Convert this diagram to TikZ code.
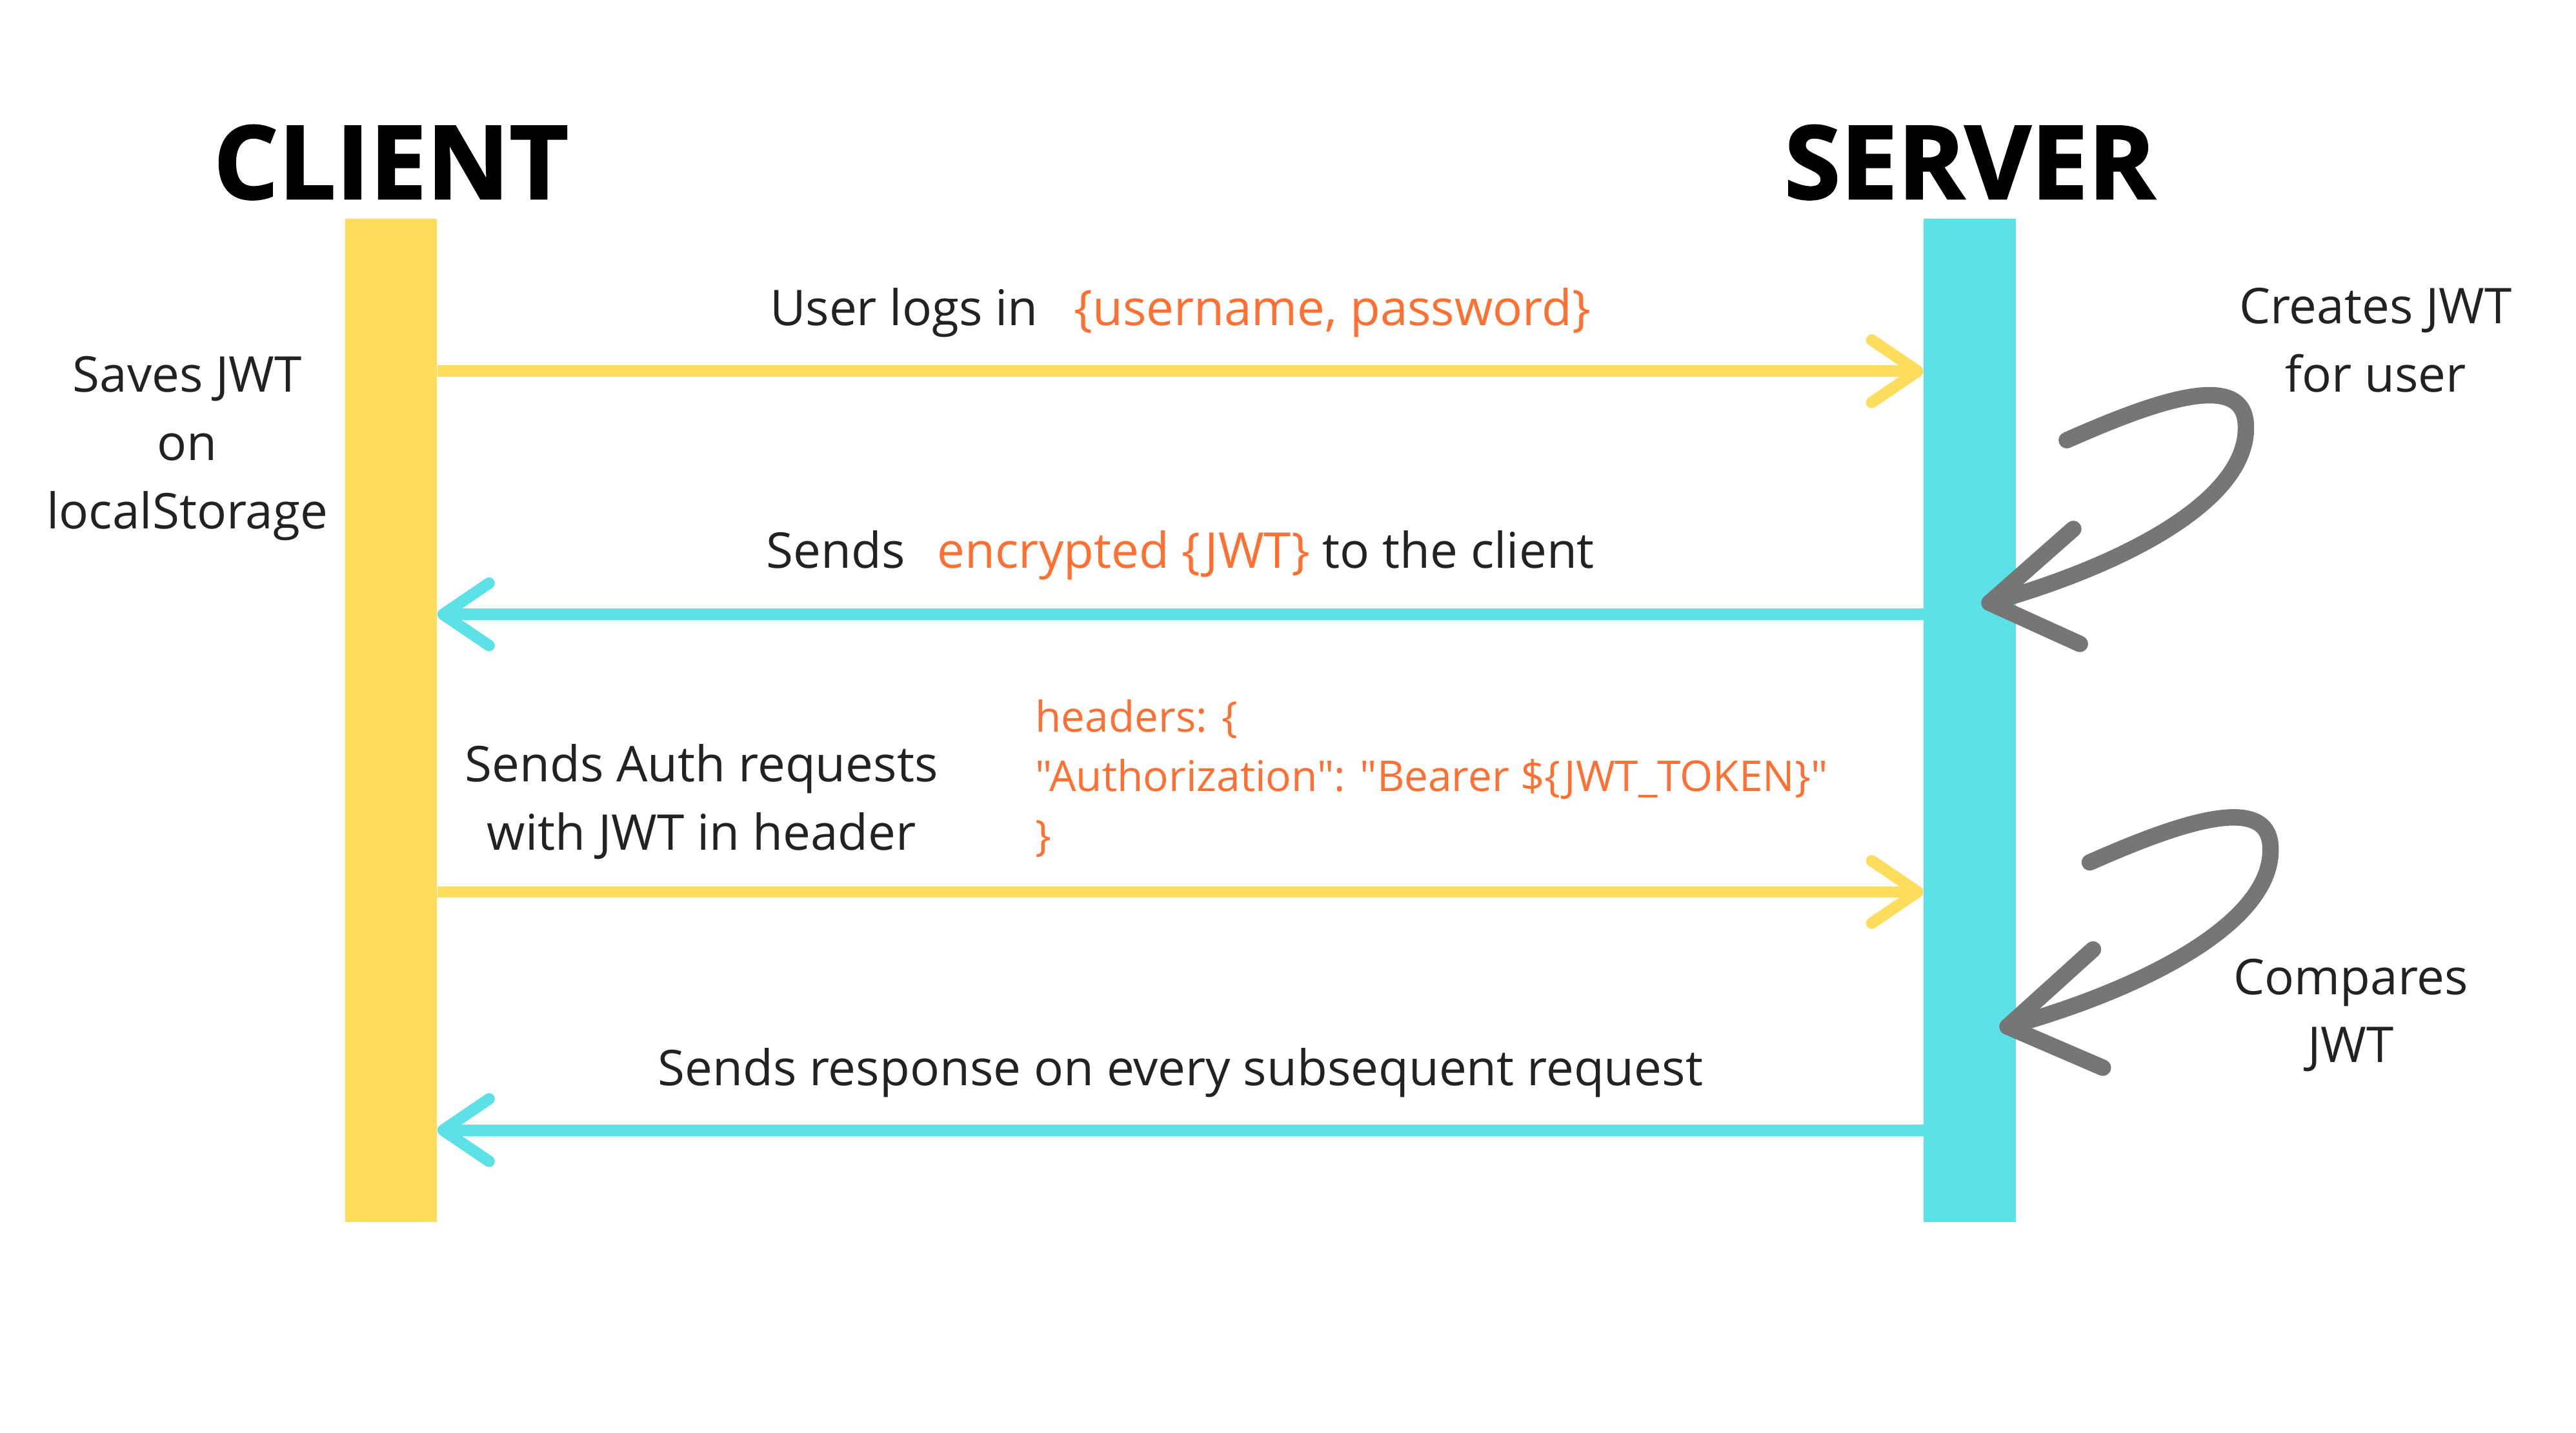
\documentclass[tikz,border=0pt]{standalone}
\usepackage{fontspec}
\setmainfont{Open Sans}
\newfontfamily\headfont{Open Sans}[UprightFont=* Bold, FakeBold=1.6]
\newfontfamily\codefont{Open Sans}[Ligatures=TeXOff]
\usetikzlibrary{arrows.meta,positioning}
\definecolor{clientyellow}{RGB}{254,220,92}
\definecolor{servercyan}{RGB}{92,225,230}
\definecolor{codeorange}{RGB}{255,112,50}
\definecolor{curlgray}{RGB}{118,118,118}
\definecolor{textgray}{RGB}{34,34,34}
\tikzset{
  lifeline/.style={rectangle, inner sep=0, minimum width=56pt, minimum height=611pt},
  head/.style={inner sep=0, font=\headfont\fontsize{62}{62}\selectfont},
  msgtext/.style={inner sep=0, text=textgray, align=center, font=\fontsize{30}{41.5}\selectfont},
  codetext/.style={inner sep=0, text=codeorange, align=left, font=\codefont\fontsize{25.8}{36}\selectfont},
  msg/.style={line width=7pt, -{Straight Barb[length=28pt,width=38pt,line cap=round,line join=round]}},
  curlarrow/.style={draw=curlgray, line width=10pt, line cap=round, line join=round}
}
\begin{document}
\begin{tikzpicture}[x = 1pt, y = -1pt]
  \useasboundingbox (0,0) rectangle (1568,872);
  % lifelines
  \node[lifeline, fill=clientyellow] (client) at (238,438.5) {};
  \node[lifeline, fill=servercyan] (server) at (1199,438.5) {};
  \node[head, above=11pt of client] (clienthead) {CLIENT};
  \node[head, above=11pt of server] (serverhead) {SERVER};
  % message rows
  \coordinate (row1) at (0,226);
  \coordinate (row2) at (0,374);
  \coordinate (row3) at (0,543);
  \coordinate (row4) at (0,688);
  \draw[msg, clientyellow] (client.east |- row1) -- node[msgtext, anchor=base, yshift=28pt] (login) {User logs in\hspace{14pt} \textcolor{codeorange}{\{username, password\}}} (server.west |- row1);
  \draw[msg, servercyan] (server.west |- row2) -- node[msgtext, anchor=base, yshift=28pt] (sendjwt) {Sends\hspace{12pt} \textcolor{codeorange}{encrypted \{JWT\}} to the client} (client.east |- row2);
  \draw[msg, clientyellow] (client.east |- row3) -- (server.west |- row3);
  \draw[msg, servercyan] (server.west |- row4) -- node[msgtext, anchor=base, yshift=27pt] (response) {Sends response on every subsequent request} (client.east |- row4);
  \node[msgtext] (authreq) at (427,488) {Sends Auth requests\\with JWT in header};
  \node[codetext, anchor=west] (headers) at (630,474) {headers: \{\\"Authorization": "Bearer \$\{JWT\_TOKEN\}"\\\}};
  % side notes
  \node[msgtext] (saves) at (114,273) {Saves JWT\\on\\localStorage};
  \node[msgtext] (creates) at (1446,207) {Creates JWT\\for user};
  \node[msgtext] (compares) at (1431,618) {Compares\\JWT};
  % curly arrows on the server side
  \coordinate (curl1tail) at (1258,268);
  \coordinate (curl1tip) at (1211,367);
  \draw[curlarrow] (curl1tail) .. controls (1310,245) and (1365,225) .. (1367,258) .. controls (1370,305) and (1290,345) .. (curl1tip);
  \draw[curlarrow] (1262,322) -- (curl1tip) -- (1266,392);
  \coordinate (curl2tail) at (1272,525);
  \coordinate (curl2tip) at (1222,625);
  \draw[curlarrow] (curl2tail) .. controls (1324,502) and (1380,482) .. (1382,515) .. controls (1385,562) and (1302,603) .. (curl2tip);
  \draw[curlarrow] (1274,578) -- (curl2tip) -- (1280,650);
\end{tikzpicture}
\end{document}
